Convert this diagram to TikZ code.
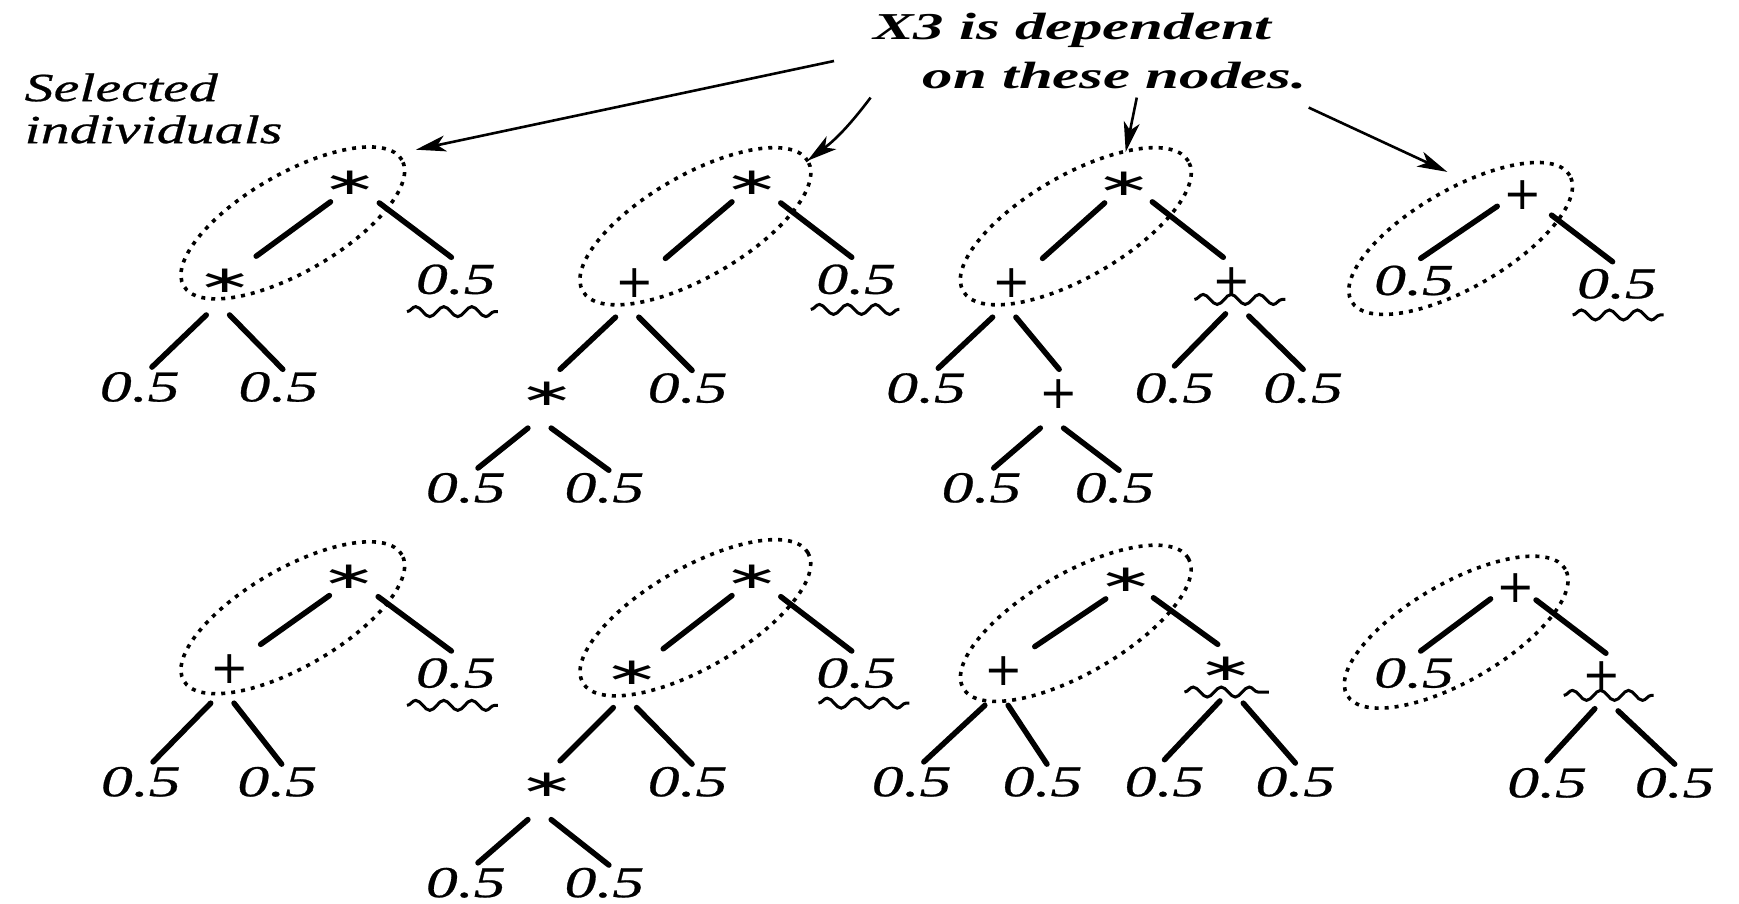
\documentclass[tikz,border=0pt]{standalone}
\usepackage{fontspec}
\setmainfont{Liberation Serif}
\newfontfamily\lblf[FakeStretch=1.45, FakeBold=0.6]{Liberation Serif}
\newfontfamily\xf[FakeStretch=1.6]{Liberation Serif}
\newfontfamily\symf{DejaVu Sans}
\usetikzlibrary{arrows.meta,decorations.pathmorphing,calc}
\tikzset{
  lf/.style={font=\lblf\itshape\fontsize{44}{44}\selectfont, inner sep=0pt},
  pl/.style={font=\symf\fontsize{46}{46}\selectfont, inner sep=0pt},
  as/.style={font=\symf\fontsize{44}{44}\selectfont, inner sep=0pt, xscale=1.5, yscale=0.85},
  selt/.style={font=\lblf\itshape\fontsize{40}{42}\selectfont, inner sep=0pt, align=left},
  xt/.style={font=\xf\bfseries\itshape\fontsize{38}{40}\selectfont, inner sep=0pt},
  ed/.style={line width=5.5pt, line cap=round},
  dots/.style={line width=3.6pt, dash pattern=on 4pt off 6pt},
  wave/.style={line width=3pt, decorate, decoration={snake, amplitude=5pt, segment length=28pt}},
  arr/.style={line width=2.6pt, -{Stealth[length=30pt, width=16pt, inset=8pt]}}
}
% edge macros: root-level left/right, lower-level left/right
\newcommand{\edRL}[2]{\draw[ed] ($(#1)+(-18,17)$) -- ($(#2)+(28,-22)$);}
\newcommand{\edRLL}[2]{\draw[ed] ($(#1)+(-23,10)$) -- ($(#2)+(6,-20)$);}
\newcommand{\edRR}[2]{\draw[ed] ($(#1)+(26,18)$) -- ($(#2)+(-4,-20)$);}
\newcommand{\edRRO}[2]{\draw[ed] ($(#1)+(25,16)$) -- ($(#2)+(-8,-22)$);}
\newcommand{\edLL}[2]{\draw[ed] ($(#1)+(-17,31)$) -- ($(#2)+(11,-18)$);}
\newcommand{\edLLO}[2]{\draw[ed] ($(#1)+(-17,31)$) -- ($(#2)+(12,-22)$);}
\newcommand{\edLR}[2]{\draw[ed] ($(#1)+(4,31)$) -- ($(#2)+(4,-16)$);}
\newcommand{\edLRO}[2]{\draw[ed] ($(#1)+(4,31)$) -- ($(#2)+(0,-22)$);}
\newcommand{\edWL}[2]{\draw[ed] ($(#1)+(-6,29)$) -- ($(#2)+(0,-20)$);}
\newcommand{\edWR}[2]{\draw[ed] ($(#1)+(15,31)$) -- ($(#2)+(0,-17)$);}
\begin{document}
\begin{tikzpicture}[x=1.109pt, y=-1.109pt]
\fill[white] (0,0) rectangle (1568,815);
\useasboundingbox (0,0) rectangle (1568,815);

% ---------- texts ----------
\node[selt, anchor=north west] (sel) at (22,66) {Selected\\individuals};
\node[xt] (x3a) at (967,27) {X3 is dependent};
\node[xt] (x3b) at (1005,68) {on these nodes.};

% ---------- ellipses ----------
\draw[dots, rotate around={30:(264,201)}] (264,201) ellipse [x radius=126pt, y radius=49pt];
\draw[dots, rotate around={30:(627,204)}] (627,204) ellipse [x radius=130pt, y radius=51pt];
\draw[dots, rotate around={30:(970,204)}] (970,204) ellipse [x radius=130pt, y radius=51pt];
\draw[dots, rotate around={30:(1317,215)}] (1317,215) ellipse [x radius=126pt, y radius=49pt];
\draw[dots, rotate around={30:(264,557)}] (264,557) ellipse [x radius=126pt, y radius=49pt];
\draw[dots, rotate around={30:(627,557)}] (627,557) ellipse [x radius=130pt, y radius=50pt];
\draw[dots, rotate around={30:(970,562)}] (970,562) ellipse [x radius=130pt, y radius=50pt];
\draw[dots, rotate around={30:(1313,570)}] (1313,570) ellipse [x radius=126pt, y radius=49pt];

% ---------- tree 1 ----------
\node[as] (t1a) at (316,165) {∗};
\node[as] (t1b) at (203,253) {∗};
\node[lf] (t1c) at (411,252) {0.5};
\node[lf] (t1d) at (126,349) {0.5};
\node[lf] (t1e) at (251,349) {0.5};
\edRL{t1a}{t1b} \edRR{t1a}{t1c} \edLL{t1b}{t1d} \edLR{t1b}{t1e}
\draw[wave] (367,281) -- (449,281);

% ---------- tree 2 ----------
\node[as] (t2a) at (678,165) {∗};
\node[pl] (t2b) at (572,255) {+};
\node[lf] (t2c) at (772,252) {0.5};
\node[as] (t2d) at (493,355) {∗};
\node[lf] (t2e) at (620,350) {0.5};
\node[lf] (t2f) at (420,440) {0.5};
\node[lf] (t2g) at (545,440) {0.5};
\edRL{t2a}{t2b} \edRR{t2a}{t2c} \edLLO{t2b}{t2d} \edLR{t2b}{t2e} \edLL{t2d}{t2f} \edLR{t2d}{t2g}
\draw[wave] (731,279) -- (811,279);

% ---------- tree 3 ----------
\node[as] (t3a) at (1014,166) {∗};
\node[pl] (t3b) at (912,255) {+};
\node[pl] (t3c) at (1111,254) {+};
\node[lf] (t3d) at (835,350) {0.5};
\node[pl] (t3e) at (955,355) {+};
\node[lf] (t3f) at (885,440) {0.5};
\node[lf] (t3g) at (1005,440) {0.5};
\node[lf] (t3h) at (1059,350) {0.5};
\node[lf] (t3i) at (1175,350) {0.5};
\edRL{t3a}{t3b} \edRRO{t3a}{t3c} \edLL{t3b}{t3d} \edLRO{t3b}{t3e}
\edLL{t3e}{t3f} \edLR{t3e}{t3g} \edWL{t3c}{t3h} \edWR{t3c}{t3i}
\draw[wave] (1077,270) -- (1159,270);

% ---------- tree 4 ----------
\node[pl] (t4a) at (1373,176) {+};
\node[lf] (t4b) at (1275,253) {0.5};
\node[lf] (t4c) at (1458,256) {0.5};
\edRLL{t4a}{t4b} \edRR{t4a}{t4c}
\draw[wave] (1418,284) -- (1500,284);

% ---------- tree 5 ----------
\node[as] (t5a) at (315,520) {∗};
\node[pl] (t5b) at (207,603) {+};
\node[lf] (t5c) at (411,607) {0.5};
\node[lf] (t5d) at (127,705) {0.5};
\node[lf] (t5e) at (250,705) {0.5};
\edRL{t5a}{t5b} \edRR{t5a}{t5c} \edLL{t5b}{t5d} \edLR{t5b}{t5e}
\draw[wave] (367,636) -- (449,636);

% ---------- tree 6 ----------
\node[as] (t6a) at (678,520) {∗};
\node[as] (t6b) at (570,607) {∗};
\node[lf] (t6c) at (772,607) {0.5};
\node[as] (t6d) at (493,708) {∗};
\node[lf] (t6e) at (620,705) {0.5};
\node[lf] (t6f) at (420,796) {0.5};
\node[lf] (t6g) at (545,796) {0.5};
\edRL{t6a}{t6b} \edRR{t6a}{t6c} \edLLO{t6b}{t6d} \edLR{t6b}{t6e} \edLL{t6d}{t6f} \edLR{t6d}{t6g}
\draw[wave] (738,634) -- (820,634);

% ---------- tree 7 ----------
\node[as] (t7a) at (1015,523) {∗};
\node[pl] (t7b) at (905,605) {+};
\node[as] (t7c) at (1106,603) {∗};
\node[lf] (t7d) at (822,705) {0.5};
\node[lf] (t7e) at (940,705) {0.5};
\node[lf] (t7f) at (1050,705) {0.5};
\node[lf] (t7g) at (1168,705) {0.5};
\edRL{t7a}{t7b} \edRRO{t7a}{t7c} \edLL{t7b}{t7d} \edLR{t7b}{t7e} \edWL{t7c}{t7f} \edWR{t7c}{t7g}
\draw[wave] (1068,624) -- (1144,624);

% ---------- tree 8 ----------
\node[pl] (t8a) at (1367,530) {+};
\node[lf] (t8b) at (1275,607) {0.5};
\node[pl] (t8c) at (1444,610) {+};
\node[lf] (t8d) at (1395,706) {0.5};
\node[lf] (t8e) at (1510,706) {0.5};
\edRLL{t8a}{t8b} \draw[ed] ($(t8a)+(18,11)$) -- ($(t8c)+(4,-21)$);
\edWL{t8c}{t8d} \edWR{t8c}{t8e}
\draw[wave] (1410,627) -- (1491,627);

% ---------- arrows ----------
\coordinate (a1s) at (752,55);
\coordinate (a1e) at (375,135);
\coordinate (a2s) at (785,88);
\coordinate (a2e) at (728,145);
\coordinate (a3s) at (1025,88);
\coordinate (a3e) at (1015,137);
\coordinate (a4s) at (1180,97);
\coordinate (a4e) at (1305,155);
\draw[arr] (a1s) -- (a1e);
\draw[arr] (a2s) to[bend left=8] (a2e);
\draw[arr] (a3s) -- (a3e);
\draw[arr] (a4s) -- (a4e);
\end{tikzpicture}
\end{document}
